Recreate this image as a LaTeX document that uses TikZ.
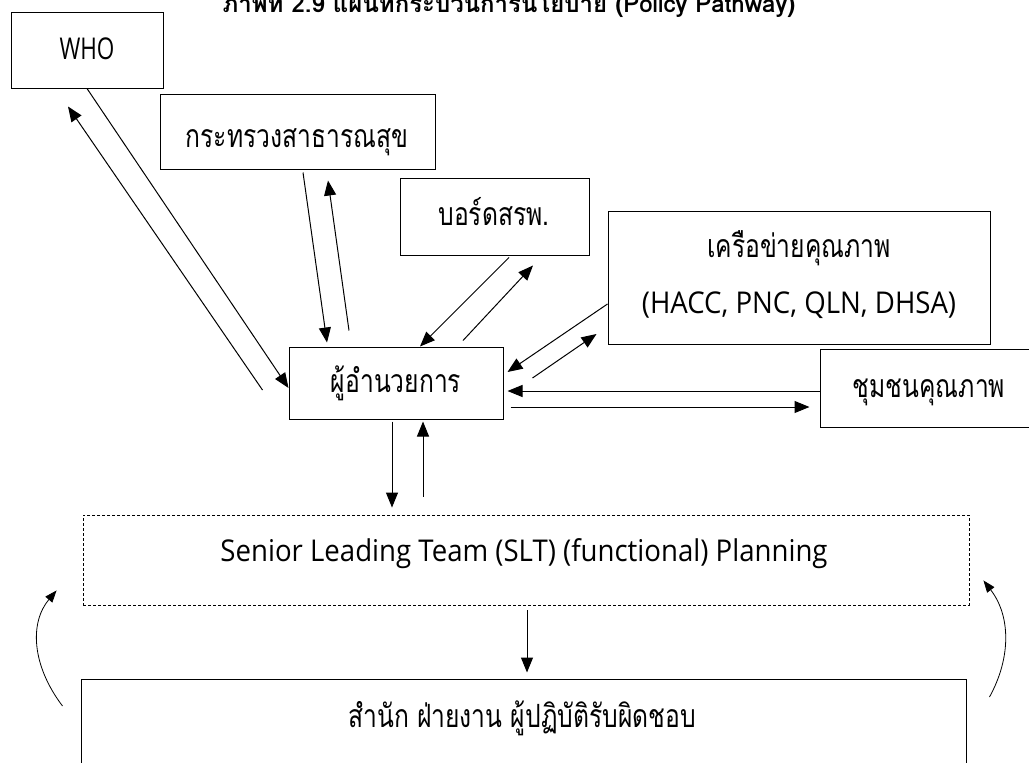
\documentclass[tikz,border=0pt]{standalone}
\usepackage{fontspec}
\setmainfont[Script=Thai, FakeStretch=0.77]{Loma}
\newfontfamily\titlefont[Script=Thai]{Loma}
\newfontfamily\latinfont[FakeStretch=0.92]{Open Sans}
\newfontfamily\latinnarrow[FakeStretch=0.75]{Open Sans}
\usetikzlibrary{arrows.meta}
\begin{document}
\begin{tikzpicture}[x=1pt,y=-1pt,
  box/.style={draw, line width=1pt, rectangle, inner sep=0pt},
  dashbox/.style={draw, line width=0.9pt, dash pattern=on 3pt off 2pt, rectangle, inner sep=0pt},
  txt/.style={anchor=base, inner sep=0pt, font=\fontsize{32}{36}\selectfont},
  ltxt/.style={anchor=base, inner sep=0pt, font=\latinfont\fontsize{30}{36}\selectfont},
  conn/.style={line width=1pt, -{Triangle[length=15pt,width=12pt]}},
  curv/.style={line width=0.8pt, -{Triangle[length=12pt,width=9pt]}}]
\path[use as bounding box] (0,0) rectangle (1029,763);
\clip (0,0) rectangle (1029,763);

% caption, cut by the top edge
\node[anchor=base, inner sep=0pt, font=\titlefont\fontsize{24}{30}\selectfont\bfseries] (title) at (509,12)
  {ภาพที่ 2.9 แผนที่กระบวนการนโยบาย (Policy Pathway)};

% boxes
\node[box, minimum width=152pt, minimum height=76pt] (who)   at (87,50) {};
\node[box, minimum width=275pt, minimum height=75pt] (moph)  at (297.5,131.5) {};
\node[box, minimum width=189pt, minimum height=77pt] (board) at (494.5,216.5) {};
\node[box, minimum width=382pt, minimum height=133pt] (net)  at (799,277.5) {};
\node[box, minimum width=215pt, minimum height=78pt] (comm)  at (927.5,388) {};
\node[box, minimum width=214pt, minimum height=72pt] (dir)   at (396,383) {};
\node[dashbox, minimum width=886pt, minimum height=90pt] (slt) at (526,560) {};
\node[box, minimum width=885pt, minimum height=91pt] (bot)   at (523.5,724.5) {};

% labels
\node[ltxt, font=\latinnarrow\fontsize{30}{36}\selectfont] (whot) at (87,59) {WHO};
\node[txt] (mopht)  at (297,147) {กระทรวงสาธารณสุข};
\node[txt] (boardt) at (494,225) {บอร์ดสรพ.};
\node[txt] (nett1)  at (799,257) {เครือข่ายคุณภาพ};
\node[ltxt] (nett2) at (799,313) {(HACC, PNC, QLN, DHSA)};
\node[txt] (commt)  at (929,397) {ชุมชนคุณภาพ};
\node[txt] (dirt)   at (396,392) {ผู้อำนวยการ};
\node[ltxt] (sltt)  at (524,561) {Senior Leading Team (SLT) (functional) Planning};
\node[txt] (bott)   at (522,727) {สำนัก ฝ่ายงาน ผู้ปฏิบัติรับผิดชอบ};

% WHO
\draw[conn] (who.south) -- ([yshift=-5pt]dir.west);
\draw[conn] ([xshift=-26pt,yshift=-7pt]dir.west) -- ([xshift=-19pt,yshift=-18pt]who.south);
% ministry
\draw[conn] ([xshift=5.5pt,yshift=-3pt]moph.south) -- ([xshift=-69pt,yshift=4pt]dir.north);
\draw[conn] ([xshift=-47pt,yshift=16pt]dir.north) -- ([xshift=30.5pt,yshift=-11pt]moph.south);
% board
\draw[conn] ([xshift=14.5pt,yshift=-2pt]board.south) -- ([xshift=24pt]dir.north);
\draw[conn] ([xshift=67pt,yshift=6pt]dir.north) -- ([xshift=38.5pt,yshift=-10pt]board.south);
% network
\draw[conn] ([yshift=-26.5pt]net.west) -- ([xshift=4pt,yshift=11pt]dir.east);
\draw[conn] ([xshift=29pt,yshift=5pt]dir.east) -- ([xshift=-11pt,yshift=-56.5pt]net.west);
% community
\draw[conn] ([yshift=-3pt]comm.west) -- ([xshift=4pt,yshift=-8pt]dir.east);
\draw[conn] ([xshift=7pt,yshift=-24pt]dir.east) -- ([xshift=-10pt,yshift=-19pt]comm.west);
% director and SLT
\draw[conn] ([xshift=-4pt,yshift=-2pt]dir.south) -- ([xshift=-134pt,yshift=7pt]slt.north);
\draw[conn] ([xshift=-103pt,yshift=18pt]slt.north) -- ([xshift=27pt,yshift=-2pt]dir.south);
\draw[conn] ([xshift=1pt,yshift=-5pt]slt.south) -- ([xshift=3.5pt,yshift=6pt]bot.north);
% feedback loops
\draw[curv] ([xshift=-18pt,yshift=18.5pt]bot.west) .. controls +(-31,-41) and +(-27,32) .. ([xshift=-26pt,yshift=15pt]slt.south west);
\draw[curv] ([xshift=23pt,yshift=27.5pt]bot.east) .. controls +(22,-40) and +(27,35) .. ([xshift=14pt,yshift=25pt]slt.south east);
\end{tikzpicture}
\end{document}
